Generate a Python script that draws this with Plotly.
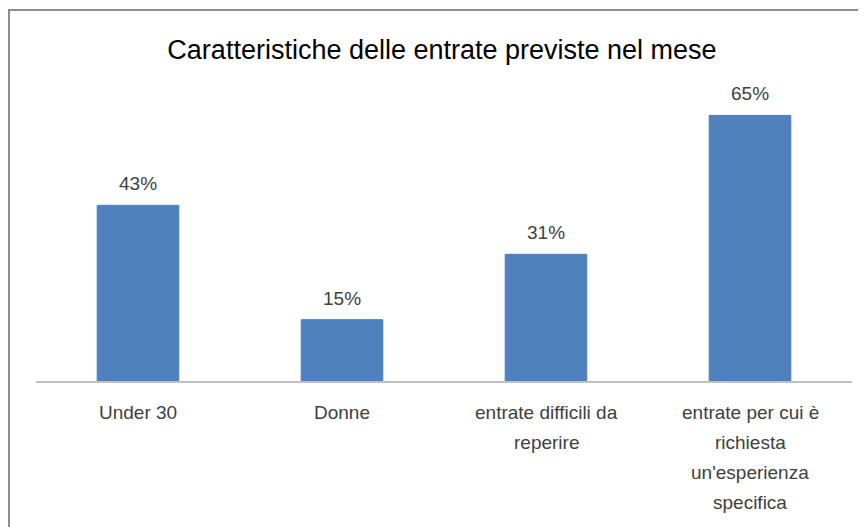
import plotly.graph_objects as go

categories = ["Under 30", "Donne", "entrate difficili da reperire", "entrate per cui è richiesta un'esperienza specifica"]
label_lines = [["Under 30"], ["Donne"], ["entrate difficili da", "reperire"],
               ["entrate per cui è", "richiesta", "un'esperienza", "specifica"]]
values = [0.43, 0.15, 0.31, 0.65]
value_labels = ["43%", "15%", "31%", "65%"]
title = "Caratteristiche delle entrate previste nel mese"

FONT = "Liberation Sans, Arial, sans-serif"

W, H = 858, 519
L, R, T, B = 28, 14, 87, 146
PW, PH = W - L - R, H - T - B

fig = go.Figure()
fig.add_trace(go.Bar(
    x=categories, y=values,
    marker=dict(color="#4F81BD", line=dict(color="#4A7EBB", width=1)),
    hoverinfo="skip",
))

annotations = []
for cat, v, lab in zip(categories, values, value_labels):
    annotations.append(dict(x=cat, y=v, xref="x", yref="y", text=lab, showarrow=False,
                            yanchor="bottom", yshift=9,
                            font=dict(family=FONT, size=19, color="#404040")))
for cat, lines in zip(categories, label_lines):
    for i, line in enumerate(lines):
        annotations.append(dict(x=cat, y=0, xref="x", yref="paper", text=line, showarrow=False,
                                yanchor="middle", yshift=-31 - 30 * i,
                                font=dict(family=FONT, size=19, color="#404040")))

fig.update_layout(
    width=W, height=H,
    margin=dict(l=L, r=R, t=T, b=B),
    paper_bgcolor="white", plot_bgcolor="white",
    showlegend=False,
    bargap=0.6,
    title=dict(text=title, x=(442 - 8) / W, xanchor="center", y=1 - 42 / H, yanchor="middle",
               font=dict(family=FONT, size=27, color="black")),
    xaxis=dict(showticklabels=False, showline=True, linecolor="#BFBFBF", linewidth=2,
               ticks="", showgrid=False, zeroline=False, fixedrange=True),
    yaxis=dict(range=[0, 0.70], visible=False, showgrid=False, zeroline=False, fixedrange=True),
    annotations=annotations,
    shapes=[dict(type="rect", xref="paper", yref="paper",
                 x0=(1 - L) / PW, x1=(W + 10 - L) / PW,
                 y0=(H - B - H - 10) / PH, y1=(H - B - 2) / PH,
                 line=dict(color="#8C8C8C", width=2), fillcolor="rgba(0,0,0,0)", layer="below")],
)

fig.write_html("out.html")
